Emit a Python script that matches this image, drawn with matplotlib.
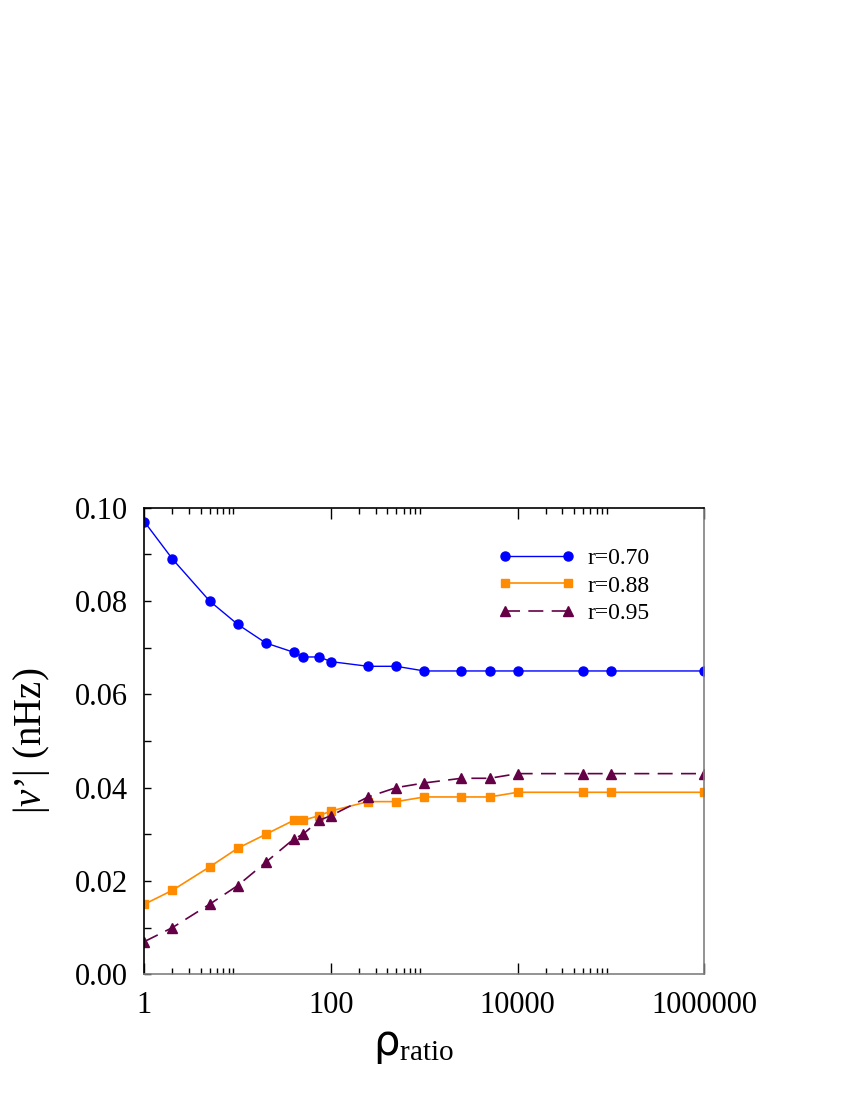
import matplotlib
matplotlib.use('Agg')
import matplotlib.pyplot as plt
from matplotlib.ticker import FixedLocator, NullFormatter

plt.rcParams.update({
    'font.family': ['Liberation Serif', 'DejaVu Serif'],
    'mathtext.fontset': 'custom',
    'mathtext.rm': 'Liberation Serif',
    'mathtext.it': 'Liberation Serif:italic',
    'mathtext.sf': 'DejaVu Sans',
})

# data
rho = [1, 2, 5, 10, 20, 40, 50, 75, 100, 250, 500, 1000, 2500, 5000,
       10000, 50000, 100000, 1000000]
nu_070 = [0.097, 0.089, 0.080, 0.075, 0.071, 0.069, 0.068, 0.068, 0.067,
          0.066, 0.066, 0.065, 0.065, 0.065, 0.065, 0.065, 0.065, 0.065]
nu_088 = [0.015, 0.018, 0.023, 0.027, 0.030, 0.033, 0.033, 0.034, 0.035,
          0.037, 0.037, 0.038, 0.038, 0.038, 0.039, 0.039, 0.039, 0.039]
nu_095 = [0.007, 0.010, 0.015, 0.019, 0.024, 0.029, 0.030, 0.033, 0.034,
          0.038, 0.040, 0.041, 0.042, 0.042, 0.043, 0.043, 0.043, 0.043]
labels = ['r=0.70', 'r=0.88', 'r=0.95']
xticks = [1, 100, 10000, 1000000]
xticklabels = ['1', '100', '10000', '1000000']
yticks = [0.00, 0.02, 0.04, 0.06, 0.08, 0.10]

blue = '#0000ff'
orange = '#ff8c00'
purple = '#650047'
gray = '#808080'

fig = plt.figure(figsize=(8.5, 11), dpi=100)
ax = fig.add_axes([0.1698, 0.1143, 0.6588, 0.4242])

ax.plot(rho, nu_070, color=blue, lw=1.0, marker='o', ms=6.5, label=labels[0])
ax.plot(rho, nu_088, color=orange, lw=1.2, marker='s', ms=5.5, label=labels[1])
ax.plot(rho, nu_095, color=purple, lw=1.2, marker='^', ms=6.5,
        dashes=(9, 5), label=labels[2])

ax.set_xscale('log')
ax.set_xlim(1, 1e6)
ax.set_ylim(0, 0.10)

ax.xaxis.set_major_locator(FixedLocator(xticks))
ax.set_xticklabels(xticklabels)
minors = [m * 10**e for e in (0, 2, 4) for m in range(2, 10)]
ax.xaxis.set_minor_locator(FixedLocator(minors))
ax.xaxis.set_minor_formatter(NullFormatter())
ax.set_yticks(yticks)
ax.set_yticklabels(['%.2f' % v for v in yticks])
ax.yaxis.set_minor_locator(FixedLocator([0.01, 0.03, 0.05, 0.07, 0.09]))

ax.tick_params(axis='both', which='both', direction='in', labelsize=22, width=1)
ax.tick_params(axis='x', which='major', length=8, pad=12, top=True)
ax.tick_params(axis='x', which='minor', length=4, top=True)
ax.tick_params(axis='y', which='major', length=5, pad=12, right=False)
ax.tick_params(axis='y', which='minor', length=5, right=False)

ax.spines['left'].set_color('black')
ax.spines['top'].set_color('black')
ax.spines['bottom'].set_color(gray)
ax.spines['right'].set_color(gray)
for s in ax.spines.values():
    s.set_linewidth(1.2)

ax.set_ylabel(r"$|\nu$’$|$ (nHz)", fontsize=28)
ax.yaxis.set_label_coords(-0.165, 0.5)
ax.set_xlabel(r"$\mathsf{\rho}_{\mathrm{ratio}}$", fontsize=30)
ax.xaxis.set_label_coords(0.48, -0.115)

leg = ax.legend(loc='upper right', bbox_to_anchor=(0.94, 0.96), frameon=False,
                fontsize=17, handlelength=3.3, handletextpad=0.5,
                labelspacing=0.25, markerfirst=True, numpoints=2)

fig.savefig('out.png', dpi=100)
